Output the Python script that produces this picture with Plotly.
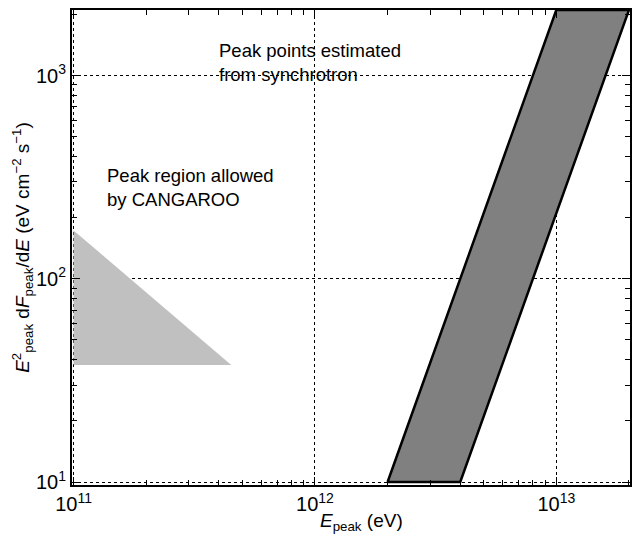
import plotly.graph_objects as go
import numpy as np

# Data
cangaroo_x = [1e11, 1e11, 4.5e11]
cangaroo_y = [173, 37.6, 37.6]
sync_x = [2.0e12, 4.0e12, 2.0e13, 1.0e13]
sync_y = [10, 10, 2100, 2100]

x_major = [1e11, 1e12, 1e13]
x_major_text = ["10<sup>11</sup>", "10<sup>12</sup>", "10<sup>13</sup>"]
y_major = [10, 100, 1000]
y_major_text = ["10<sup>1</sup>", "10<sup>2</sup>", "10<sup>3</sup>"]

x_minor = [m * 10 ** e for e in (11, 12, 13) for m in range(2, 10) if m * 10 ** e <= 2.1e13]
y_minor = [m * 10 ** e for e in (0, 1, 2, 3) for m in range(2, 10) if 9.5 < m * 10 ** e <= 2200]

FONT = "Liberation Sans, Arial, Helvetica, sans-serif"

fig = go.Figure()
fig.add_trace(go.Scatter(x=cangaroo_x + [cangaroo_x[0]], y=cangaroo_y + [cangaroo_y[0]],
                         fill="toself", fillcolor="#c0c0c0", mode="lines",
                         line=dict(width=0, color="#c0c0c0"), hoverinfo="skip", showlegend=False))
fig.add_trace(go.Scatter(x=sync_x + [sync_x[0]], y=sync_y + [sync_y[0]],
                         fill="toself", fillcolor="#808080", mode="lines",
                         line=dict(width=2.5, color="black"), hoverinfo="skip", showlegend=False))

axis_common = dict(
    type="log", showline=True, linecolor="black", linewidth=2, mirror="allticks",
    ticks="inside", ticklen=8, tickwidth=1, tickcolor="black",
    showgrid=True, gridcolor="black", gridwidth=1, griddash="dot",
    zeroline=False, tickfont=dict(family=FONT, size=20, color="black"),
)

fig.update_xaxes(**axis_common, range=[np.log10(0.985e11), np.log10(2.02e13)],
                 tickvals=x_major, ticktext=x_major_text,
                 minor=dict(tickvals=x_minor, ticks="inside", ticklen=5, tickcolor="black", showgrid=False))
fig.update_yaxes(**axis_common, range=[np.log10(9.67), np.log10(2100)],
                 tickvals=y_major, ticktext=y_major_text,
                 minor=dict(tickvals=y_minor, ticks="inside", ticklen=5, tickcolor="black", showgrid=False),
                 title=dict(text="<i>E</i><sup>2</sup><sub>peak</sub> d<i>F</i><sub>peak</sub>/d<i>E</i> (eV cm<sup>−2</sup> s<sup>−1</sup>)",
                            font=dict(family=FONT, size=19, color="black"), standoff=0))

# x-axis title placed as an annotation below the tick labels
fig.add_annotation(xref="paper", yref="paper", x=(363 - 72) / 560, y=(485 - 522) / 475,
                   xanchor="center", yanchor="middle", showarrow=False,
                   text="<i>E</i><sub>peak</sub> (eV)",
                   font=dict(family=FONT, size=19, color="black"))

fig.add_annotation(xref="paper", yref="paper", x=(218 - 72) / 560, y=(485 - 38) / 475,
                   xanchor="left", yanchor="top", align="left", showarrow=False,
                   text="Peak points estimated<br>from synchrotron",
                   font=dict(family=FONT, size=18.5, color="black"))
fig.add_annotation(xref="paper", yref="paper", x=(105 - 72) / 560, y=(485 - 163) / 475,
                   xanchor="left", yanchor="top", align="left", showarrow=False,
                   text="Peak region allowed<br>by CANGAROO",
                   font=dict(family=FONT, size=18.5, color="black"))

fig.update_layout(width=633, height=534, margin=dict(l=72, r=1, t=10, b=49),
                  paper_bgcolor="white", plot_bgcolor="white")
fig.write_html("out.html")
